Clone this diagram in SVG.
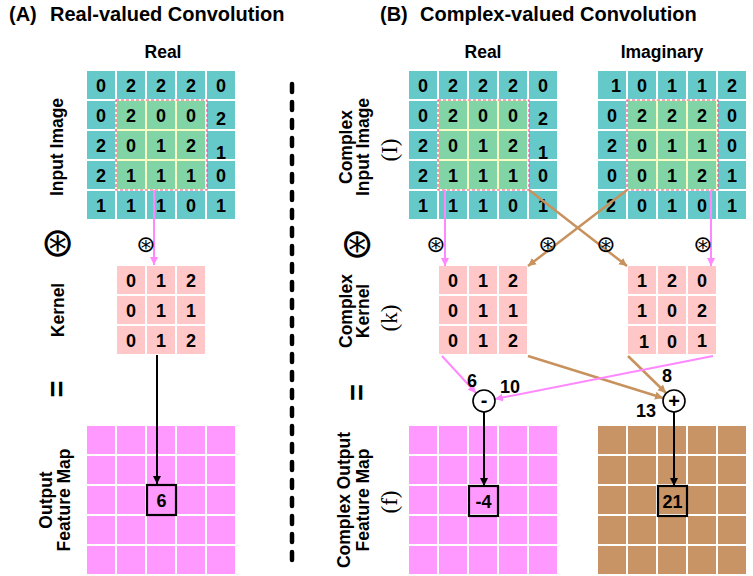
<svg xmlns="http://www.w3.org/2000/svg" width="753" height="576" viewBox="0 0 753 576">
<defs>
<style>
text{font-family:"Liberation Sans",Arial,sans-serif;font-weight:bold;fill:#000}
.t{fill:#66c9c9}
.g{fill:#80d4a6}
.k{fill:#ffc7c7}
.m{fill:#ff99ff}
.b{fill:#c89466}
.y{fill:#fbfbc4}
.hl{fill:none;stroke:#f0509a;stroke-width:1.2;stroke-dasharray:3 2}
.n{font-size:18px;text-anchor:middle}
.eq{font-size:29px;text-anchor:middle}
.lab{font-size:17.5px;text-anchor:middle}
.ser{font-family:"Liberation Serif","Times New Roman",serif;font-weight:normal;font-size:23px;text-anchor:middle}
.ttl{font-size:20px}
.sym{font-family:"DejaVu Sans",sans-serif;font-weight:normal;text-anchor:middle;font-size:23px}
.big{font-family:"DejaVu Sans",sans-serif;font-weight:normal;text-anchor:middle;font-size:40px}
.pk{stroke:#ff88ff;stroke-width:2;fill:none}
.br{stroke:#c8925e;stroke-width:2.5;fill:none}
.bk{stroke:#000;stroke-width:2;fill:none}
.box{fill:none;stroke:#000;stroke-width:2.2}
.circ{fill:#fff;stroke:#000;stroke-width:1.6}
</style>
<marker id="ap" markerUnits="userSpaceOnUse" markerWidth="10" markerHeight="10" refX="8" refY="4" orient="auto"><path d="M0,0 L8,4 L0,8 z" fill="#ff88ff"/></marker>
<marker id="ab" markerUnits="userSpaceOnUse" markerWidth="10" markerHeight="10" refX="8" refY="4" orient="auto"><path d="M0,0 L8,4 L0,8 z" fill="#c8925e"/></marker>
<marker id="ak" markerUnits="userSpaceOnUse" markerWidth="10" markerHeight="10" refX="8" refY="4" orient="auto"><path d="M0,0 L8,4 L0,8 z" fill="#000"/></marker>
</defs>
<rect width="753" height="576" fill="#fff"/>

<!-- titles -->
<text class="ttl" x="9" y="21">(A)<tspan x="50">Real-valued Convolution</tspan></text>
<text class="ttl" x="380" y="21">(B)<tspan x="420">Complex-valued Convolution</tspan></text>
<text class="lab" x="163" y="58">Real</text>
<text class="lab" x="483" y="58">Real</text>
<text class="lab" x="662" y="58">Imaginary</text>

<!-- side labels A -->
<text class="lab" transform="translate(63,147) rotate(-90)">Input Image</text>
<text class="big" x="57.5" y="256">⊛</text>
<text class="lab" transform="translate(64,310) rotate(-90)">Kernel</text>
<text class="eq" transform="translate(67,389) rotate(-90)">=</text>
<text class="lab" transform="translate(52,500) rotate(-90)">Output</text>
<text class="lab" transform="translate(70,500) rotate(-90)">Feature Map</text>

<!-- side labels B -->
<text class="lab" transform="translate(352,147) rotate(-90)">Complex</text>
<text class="lab" transform="translate(369,147) rotate(-90)">Input Image</text>
<text class="ser" transform="translate(397,150) rotate(-90)">(I)</text>
<text class="big" x="357" y="257">⊛</text>
<text class="lab" transform="translate(352,311) rotate(-90)">Complex</text>
<text class="lab" transform="translate(369,311) rotate(-90)">Kernel</text>
<text class="ser" transform="translate(397,318) rotate(-90)">(k)</text>
<text class="eq" transform="translate(367,392.5) rotate(-90)">=</text>
<text class="lab" transform="translate(350,500) rotate(-90)">Complex Output</text>
<text class="lab" transform="translate(369,500) rotate(-90)">Feature Map</text>
<text class="ser" transform="translate(397,502) rotate(-90)">(f)</text>

<!-- divider -->
<line x1="292" y1="84" x2="292" y2="570" stroke="#000" stroke-width="4.5" stroke-linecap="round" stroke-dasharray="8 10"/>

<!-- A input -->
<g id="a-input" transform="translate(87,71)">
<rect class="t" x="0" y="0" width="28" height="28"/><rect class="t" x="30" y="0" width="28" height="28"/><rect class="t" x="60" y="0" width="28" height="28"/><rect class="t" x="90" y="0" width="28" height="28"/><rect class="t" x="120" y="0" width="28" height="28"/>
<rect class="t" x="0" y="30" width="28" height="28"/><rect class="t" x="120" y="30" width="28" height="28"/>
<rect class="t" x="0" y="60" width="28" height="28"/><rect class="t" x="120" y="60" width="28" height="28"/>
<rect class="t" x="0" y="90" width="28" height="28"/><rect class="t" x="120" y="90" width="28" height="28"/>
<rect class="t" x="0" y="120" width="28" height="28"/><rect class="t" x="30" y="120" width="28" height="28"/><rect class="t" x="60" y="120" width="28" height="28"/><rect class="t" x="90" y="120" width="28" height="28"/><rect class="t" x="120" y="120" width="28" height="28"/>
<rect class="y" x="29" y="29" width="90" height="90"/>
<rect class="g" x="30" y="30" width="28" height="28"/><rect class="g" x="60" y="30" width="28" height="28"/><rect class="g" x="90" y="30" width="28" height="28"/>
<rect class="g" x="30" y="60" width="28" height="28"/><rect class="g" x="60" y="60" width="28" height="28"/><rect class="g" x="90" y="60" width="28" height="28"/>
<rect class="g" x="30" y="90" width="28" height="28"/><rect class="g" x="60" y="90" width="28" height="28"/><rect class="g" x="90" y="90" width="28" height="28"/>
<rect class="hl" x="29" y="29" width="91" height="90"/>
<text class="n" x="14" y="21">0</text><text class="n" x="44" y="21">2</text><text class="n" x="74" y="21">2</text><text class="n" x="104" y="21">2</text><text class="n" x="134" y="21">0</text>
<text class="n" x="14" y="51">0</text><text class="n" x="44" y="51">2</text><text class="n" x="74" y="51">0</text><text class="n" x="104" y="51">0</text><text class="n" x="134" y="54">2</text>
<text class="n" x="14" y="81">2</text><text class="n" x="44" y="81">0</text><text class="n" x="74" y="81">1</text><text class="n" x="104" y="81">2</text><text class="n" x="134" y="88">1</text>
<text class="n" x="14" y="111">2</text><text class="n" x="44" y="111">1</text><text class="n" x="74" y="111">1</text><text class="n" x="104" y="111">1</text><text class="n" x="134" y="111">0</text>
<text class="n" x="14" y="141">1</text><text class="n" x="44" y="141">1</text><text class="n" x="74" y="141">1</text><text class="n" x="104" y="141">0</text><text class="n" x="134" y="141">1</text>
</g>

<!-- A kernel -->
<g id="a-kernel" transform="translate(117,266)">
<rect class="k" x="0" y="0" width="28" height="28"/><rect class="k" x="30" y="0" width="28" height="28"/><rect class="k" x="60" y="0" width="28" height="28"/>
<rect class="k" x="0" y="30" width="28" height="28"/><rect class="k" x="30" y="30" width="28" height="28"/><rect class="k" x="60" y="30" width="28" height="28"/>
<rect class="k" x="0" y="60" width="28" height="28"/><rect class="k" x="30" y="60" width="28" height="28"/><rect class="k" x="60" y="60" width="28" height="28"/>
<text class="n" x="14" y="21">0</text><text class="n" x="44" y="21">1</text><text class="n" x="74" y="21">2</text>
<text class="n" x="14" y="51">0</text><text class="n" x="44" y="51">1</text><text class="n" x="74" y="51">1</text>
<text class="n" x="14" y="81">0</text><text class="n" x="44" y="81">1</text><text class="n" x="74" y="81">2</text>
</g>

<!-- A output -->
<g id="a-output" transform="translate(87,426)">
<rect class="m" x="0" y="0" width="28" height="28"/><rect class="m" x="30" y="0" width="28" height="28"/><rect class="m" x="60" y="0" width="28" height="28"/><rect class="m" x="90" y="0" width="28" height="28"/><rect class="m" x="120" y="0" width="28" height="28"/>
<rect class="m" x="0" y="30" width="28" height="28"/><rect class="m" x="30" y="30" width="28" height="28"/><rect class="m" x="60" y="30" width="28" height="28"/><rect class="m" x="90" y="30" width="28" height="28"/><rect class="m" x="120" y="30" width="28" height="28"/>
<rect class="m" x="0" y="60" width="28" height="28"/><rect class="m" x="30" y="60" width="28" height="28"/><rect class="m" x="60" y="60" width="28" height="28"/><rect class="m" x="90" y="60" width="28" height="28"/><rect class="m" x="120" y="60" width="28" height="28"/>
<rect class="m" x="0" y="90" width="28" height="28"/><rect class="m" x="30" y="90" width="28" height="28"/><rect class="m" x="60" y="90" width="28" height="28"/><rect class="m" x="90" y="90" width="28" height="28"/><rect class="m" x="120" y="90" width="28" height="28"/>
<rect class="m" x="0" y="120" width="28" height="28"/><rect class="m" x="30" y="120" width="28" height="28"/><rect class="m" x="60" y="120" width="28" height="28"/><rect class="m" x="90" y="120" width="28" height="28"/><rect class="m" x="120" y="120" width="28" height="28"/>
<rect class="box" x="60" y="59" width="29" height="30"/>
<text class="n" x="74.5" y="81">6</text>
</g>

<!-- B real input -->
<g id="b-input-real" transform="translate(409,71)">
<rect class="t" x="0" y="0" width="28" height="28"/><rect class="t" x="30" y="0" width="28" height="28"/><rect class="t" x="60" y="0" width="28" height="28"/><rect class="t" x="90" y="0" width="28" height="28"/><rect class="t" x="120" y="0" width="28" height="28"/>
<rect class="t" x="0" y="30" width="28" height="28"/><rect class="t" x="120" y="30" width="28" height="28"/>
<rect class="t" x="0" y="60" width="28" height="28"/><rect class="t" x="120" y="60" width="28" height="28"/>
<rect class="t" x="0" y="90" width="28" height="28"/><rect class="t" x="120" y="90" width="28" height="28"/>
<rect class="t" x="0" y="120" width="28" height="28"/><rect class="t" x="30" y="120" width="28" height="28"/><rect class="t" x="60" y="120" width="28" height="28"/><rect class="t" x="90" y="120" width="28" height="28"/><rect class="t" x="120" y="120" width="28" height="28"/>
<rect class="y" x="29" y="29" width="90" height="90"/>
<rect class="g" x="30" y="30" width="28" height="28"/><rect class="g" x="60" y="30" width="28" height="28"/><rect class="g" x="90" y="30" width="28" height="28"/>
<rect class="g" x="30" y="60" width="28" height="28"/><rect class="g" x="60" y="60" width="28" height="28"/><rect class="g" x="90" y="60" width="28" height="28"/>
<rect class="g" x="30" y="90" width="28" height="28"/><rect class="g" x="60" y="90" width="28" height="28"/><rect class="g" x="90" y="90" width="28" height="28"/>
<rect class="hl" x="29" y="29" width="91" height="90"/>
<text class="n" x="14" y="21">0</text><text class="n" x="44" y="21">2</text><text class="n" x="74" y="21">2</text><text class="n" x="104" y="21">2</text><text class="n" x="134" y="21">0</text>
<text class="n" x="14" y="51">0</text><text class="n" x="44" y="51">2</text><text class="n" x="74" y="51">0</text><text class="n" x="104" y="51">0</text><text class="n" x="134" y="54">2</text>
<text class="n" x="14" y="81">2</text><text class="n" x="44" y="81">0</text><text class="n" x="74" y="81">1</text><text class="n" x="104" y="81">2</text><text class="n" x="134" y="88">1</text>
<text class="n" x="14" y="111">2</text><text class="n" x="44" y="111">1</text><text class="n" x="74" y="111">1</text><text class="n" x="104" y="111">1</text><text class="n" x="134" y="111">0</text>
<text class="n" x="14" y="141">1</text><text class="n" x="44" y="141">1</text><text class="n" x="74" y="141">1</text><text class="n" x="104" y="141">0</text><text class="n" x="134" y="141">1</text>
</g>

<!-- B imaginary input -->
<g id="b-input-imag" transform="translate(598,71)">
<rect class="t" x="0" y="0" width="28" height="28"/><rect class="t" x="30" y="0" width="28" height="28"/><rect class="t" x="60" y="0" width="28" height="28"/><rect class="t" x="90" y="0" width="28" height="28"/><rect class="t" x="120" y="0" width="28" height="28"/>
<rect class="t" x="0" y="30" width="28" height="28"/><rect class="t" x="120" y="30" width="28" height="28"/>
<rect class="t" x="0" y="60" width="28" height="28"/><rect class="t" x="120" y="60" width="28" height="28"/>
<rect class="t" x="0" y="90" width="28" height="28"/><rect class="t" x="120" y="90" width="28" height="28"/>
<rect class="t" x="0" y="120" width="28" height="28"/><rect class="t" x="30" y="120" width="28" height="28"/><rect class="t" x="60" y="120" width="28" height="28"/><rect class="t" x="90" y="120" width="28" height="28"/><rect class="t" x="120" y="120" width="28" height="28"/>
<rect class="y" x="29" y="29" width="90" height="90"/>
<rect class="g" x="30" y="30" width="28" height="28"/><rect class="g" x="60" y="30" width="28" height="28"/><rect class="g" x="90" y="30" width="28" height="28"/>
<rect class="g" x="30" y="60" width="28" height="28"/><rect class="g" x="60" y="60" width="28" height="28"/><rect class="g" x="90" y="60" width="28" height="28"/>
<rect class="g" x="30" y="90" width="28" height="28"/><rect class="g" x="60" y="90" width="28" height="28"/><rect class="g" x="90" y="90" width="28" height="28"/>
<rect class="hl" x="29" y="29" width="91" height="90"/>
<text class="n" x="18" y="21">1</text><text class="n" x="44" y="21">0</text><text class="n" x="74" y="21">1</text><text class="n" x="104" y="21">1</text><text class="n" x="134" y="21">2</text>
<text class="n" x="14" y="51">0</text><text class="n" x="44" y="51">2</text><text class="n" x="74" y="51">2</text><text class="n" x="104" y="51">2</text><text class="n" x="134" y="51">0</text>
<text class="n" x="14" y="81">2</text><text class="n" x="44" y="81">0</text><text class="n" x="74" y="81">1</text><text class="n" x="104" y="81">1</text><text class="n" x="134" y="81">0</text>
<text class="n" x="14" y="111">0</text><text class="n" x="44" y="111">0</text><text class="n" x="74" y="111">1</text><text class="n" x="104" y="111">2</text><text class="n" x="134" y="111">1</text>
<text class="n" x="13" y="141">2</text><text class="n" x="44" y="141">0</text><text class="n" x="74" y="141">1</text><text class="n" x="104" y="141">0</text><text class="n" x="134" y="141">1</text>
</g>

<!-- B kernels -->
<g id="b-kernel-real" transform="translate(439,266)">
<rect class="k" x="0" y="0" width="28" height="28"/><rect class="k" x="30" y="0" width="28" height="28"/><rect class="k" x="60" y="0" width="28" height="28"/>
<rect class="k" x="0" y="30" width="28" height="28"/><rect class="k" x="30" y="30" width="28" height="28"/><rect class="k" x="60" y="30" width="28" height="28"/>
<rect class="k" x="0" y="60" width="28" height="28"/><rect class="k" x="30" y="60" width="28" height="28"/><rect class="k" x="60" y="60" width="28" height="28"/>
<text class="n" x="14" y="21">0</text><text class="n" x="44" y="21">1</text><text class="n" x="74" y="21">2</text>
<text class="n" x="14" y="51">0</text><text class="n" x="44" y="51">1</text><text class="n" x="74" y="51">1</text>
<text class="n" x="14" y="81">0</text><text class="n" x="44" y="81">1</text><text class="n" x="74" y="81">2</text>
</g>
<g id="b-kernel-imag" transform="translate(628,266)">
<rect class="k" x="0" y="0" width="28" height="28"/><rect class="k" x="30" y="0" width="28" height="28"/><rect class="k" x="60" y="0" width="28" height="28"/>
<rect class="k" x="0" y="30" width="28" height="28"/><rect class="k" x="30" y="30" width="28" height="28"/><rect class="k" x="60" y="30" width="28" height="28"/>
<rect class="k" x="0" y="60" width="28" height="28"/><rect class="k" x="30" y="60" width="28" height="28"/><rect class="k" x="60" y="60" width="28" height="28"/>
<text class="n" x="14" y="21">1</text><text class="n" x="44" y="21">2</text><text class="n" x="74" y="21">0</text>
<text class="n" x="14" y="51">1</text><text class="n" x="44" y="51">0</text><text class="n" x="74" y="51">2</text>
<text class="n" x="16" y="82">1</text><text class="n" x="44" y="82">0</text><text class="n" x="74" y="81">1</text>
</g>

<!-- B outputs -->
<g id="b-output-real" transform="translate(409,426)">
<rect class="m" x="0" y="0" width="28" height="28"/><rect class="m" x="30" y="0" width="28" height="28"/><rect class="m" x="60" y="0" width="28" height="28"/><rect class="m" x="90" y="0" width="28" height="28"/><rect class="m" x="120" y="0" width="28" height="28"/>
<rect class="m" x="0" y="30" width="28" height="28"/><rect class="m" x="30" y="30" width="28" height="28"/><rect class="m" x="60" y="30" width="28" height="28"/><rect class="m" x="90" y="30" width="28" height="28"/><rect class="m" x="120" y="30" width="28" height="28"/>
<rect class="m" x="0" y="60" width="28" height="28"/><rect class="m" x="30" y="60" width="28" height="28"/><rect class="m" x="60" y="60" width="28" height="28"/><rect class="m" x="90" y="60" width="28" height="28"/><rect class="m" x="120" y="60" width="28" height="28"/>
<rect class="m" x="0" y="90" width="28" height="28"/><rect class="m" x="30" y="90" width="28" height="28"/><rect class="m" x="60" y="90" width="28" height="28"/><rect class="m" x="90" y="90" width="28" height="28"/><rect class="m" x="120" y="90" width="28" height="28"/>
<rect class="m" x="0" y="120" width="28" height="28"/><rect class="m" x="30" y="120" width="28" height="28"/><rect class="m" x="60" y="120" width="28" height="28"/><rect class="m" x="90" y="120" width="28" height="28"/><rect class="m" x="120" y="120" width="28" height="28"/>
<rect class="box" x="60" y="60" width="29" height="30"/>
<text class="n" x="74.5" y="82">-4</text>
</g>
<g id="b-output-imag" transform="translate(598,426)">
<rect class="b" x="0" y="0" width="28" height="28"/><rect class="b" x="30" y="0" width="28" height="28"/><rect class="b" x="60" y="0" width="28" height="28"/><rect class="b" x="90" y="0" width="28" height="28"/><rect class="b" x="120" y="0" width="28" height="28"/>
<rect class="b" x="0" y="30" width="28" height="28"/><rect class="b" x="30" y="30" width="28" height="28"/><rect class="b" x="60" y="30" width="28" height="28"/><rect class="b" x="90" y="30" width="28" height="28"/><rect class="b" x="120" y="30" width="28" height="28"/>
<rect class="b" x="0" y="60" width="28" height="28"/><rect class="b" x="30" y="60" width="28" height="28"/><rect class="b" x="60" y="60" width="28" height="28"/><rect class="b" x="90" y="60" width="28" height="28"/><rect class="b" x="120" y="60" width="28" height="28"/>
<rect class="b" x="0" y="90" width="28" height="28"/><rect class="b" x="30" y="90" width="28" height="28"/><rect class="b" x="60" y="90" width="28" height="28"/><rect class="b" x="90" y="90" width="28" height="28"/><rect class="b" x="120" y="90" width="28" height="28"/>
<rect class="b" x="0" y="120" width="28" height="28"/><rect class="b" x="30" y="120" width="28" height="28"/><rect class="b" x="60" y="120" width="28" height="28"/><rect class="b" x="90" y="120" width="28" height="28"/><rect class="b" x="120" y="120" width="28" height="28"/>
<rect class="box" x="60" y="60" width="29" height="30"/>
<text class="n" x="74.5" y="82">21</text>
</g>

<!-- connectors -->
<g id="connectors">
<line class="pk" x1="154" y1="190" x2="154" y2="265" marker-end="url(#ap)"/>
<line class="bk" x1="157" y1="355" x2="157" y2="484" marker-end="url(#ak)"/>
<line class="pk" x1="445" y1="190" x2="445" y2="266" marker-end="url(#ap)"/>
<line class="pk" x1="711" y1="190" x2="711" y2="266" marker-end="url(#ap)"/>
<line class="br" x1="529" y1="190" x2="627" y2="266" marker-end="url(#ab)"/>
<line class="br" x1="627" y1="190" x2="528" y2="266" marker-end="url(#ab)"/>
<line class="pk" x1="442" y1="356" x2="476" y2="393" marker-end="url(#ap)"/>
<line class="br" x1="528" y1="356" x2="663" y2="398" marker-end="url(#ab)"/>
<line class="br" x1="628" y1="356" x2="666" y2="393" marker-end="url(#ab)"/>
<line class="pk" x1="713" y1="356" x2="495" y2="399" marker-end="url(#ap)"/>
<line class="bk" x1="484" y1="412" x2="484" y2="486" marker-end="url(#ak)"/>
<line class="bk" x1="674" y1="412" x2="674" y2="486" marker-end="url(#ak)"/>
</g>

<!-- conv symbols on connectors -->
<text class="sym" x="146" y="251.5">⊛</text>
<text class="sym" x="436" y="251.5">⊛</text>
<text class="sym" x="548" y="251.5">⊛</text>
<text class="sym" x="606" y="251.5">⊛</text>
<text class="sym" x="703" y="251.5">⊛</text>

<!-- operators -->
<g id="minus">
<circle class="circ" cx="484" cy="401" r="11"/>
<text class="n" x="484" y="407" style="font-size:20px">-</text>
</g>
<g id="plus">
<circle class="circ" cx="674" cy="401" r="11"/>
<text class="n" x="674" y="408" style="font-size:20px">+</text>
</g>
<text class="n" x="472" y="387">6</text>
<text class="n" x="510" y="393">10</text>
<text class="n" x="667" y="382">8</text>
<text class="n" x="646" y="417">13</text>
</svg>
